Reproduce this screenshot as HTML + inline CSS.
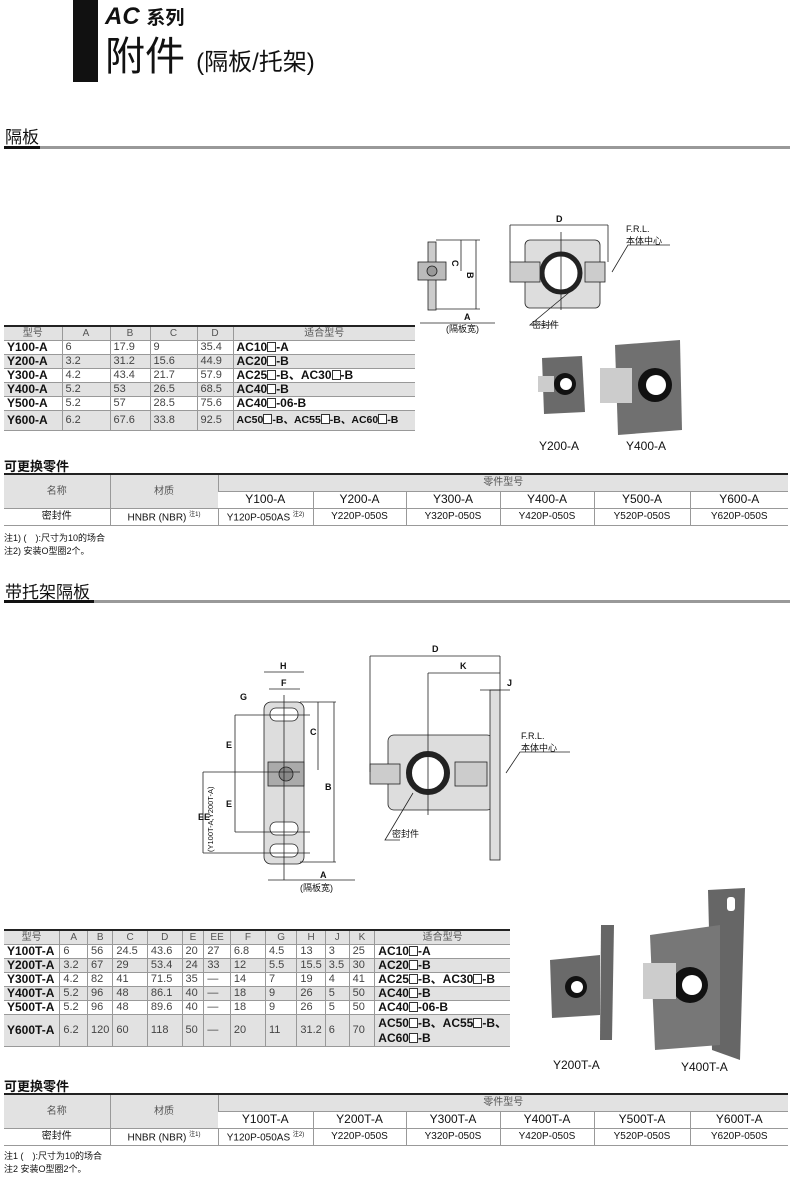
<!DOCTYPE html>
<html><head><meta charset="utf-8"><style>
*{margin:0;padding:0;box-sizing:border-box}
body{width:790px;height:1179px;position:relative;background:#fff;font-family:"Liberation Sans","Noto Sans CJK SC",sans-serif;color:#111;overflow:hidden}
.a{position:absolute}
table{border-collapse:collapse;position:absolute;font-size:11px}
td{border-left:1px solid #999;border-bottom:1px solid #999;padding:0 3px;line-height:13px;white-space:nowrap}
td:first-child{border-left:none}
tr.g td{background:#e2e2e2}
.h td{background:#e2e2e2;text-align:center;color:#555;font-size:10px}
.m{font-weight:bold;font-size:12px}
.v{color:#444}
.sq{display:inline-block;width:9px;height:10px;border:1px solid #333;background:#fff;vertical-align:-1px}
.p{table-layout:fixed}
.p td{text-align:center;font-size:10px;height:17px;padding:0}
.hd{font-size:17px}
.bar1{height:3px;background:#999}
</style></head><body>
<div class="a" style="left:73px;top:0;width:25px;height:82px;background:#111"></div>
<div class="a" style="left:105px;top:3px;font-size:24px;font-weight:bold;font-style:italic">AC <span style="font-style:normal;font-size:19px">系列</span></div>
<div class="a" style="left:105px;top:34px;font-size:40px;line-height:46px">附件 <span style="font-size:24px">(隔板/托架)</span></div>

<div class="a hd" style="left:5px;top:123px">隔板</div>
<div class="a bar1" style="left:4px;top:146px;width:786px"></div>
<div class="a" style="left:4px;top:146px;width:36px;height:3px;background:#111"></div>

<table style="left:4px;top:325px;width:411px;border-top:2px solid #222">
<tr class="h"><td style="width:58px">型号</td><td style="width:48px">A</td><td style="width:40px">B</td><td style="width:47px">C</td><td style="width:36px">D</td><td>适合型号</td></tr>
<tr><td class="m">Y100-A</td><td class="v">6</td><td class="v">17.9</td><td class="v">9</td><td class="v">35.4</td><td class="m">AC10<span class="sq"></span>-A</td></tr>
<tr class="g"><td class="m">Y200-A</td><td class="v">3.2</td><td class="v">31.2</td><td class="v">15.6</td><td class="v">44.9</td><td class="m">AC20<span class="sq"></span>-B</td></tr>
<tr><td class="m">Y300-A</td><td class="v">4.2</td><td class="v">43.4</td><td class="v">21.7</td><td class="v">57.9</td><td class="m">AC25<span class="sq"></span>-B、AC30<span class="sq"></span>-B</td></tr>
<tr class="g"><td class="m">Y400-A</td><td class="v">5.2</td><td class="v">53</td><td class="v">26.5</td><td class="v">68.5</td><td class="m">AC40<span class="sq"></span>-B</td></tr>
<tr><td class="m">Y500-A</td><td class="v">5.2</td><td class="v">57</td><td class="v">28.5</td><td class="v">75.6</td><td class="m">AC40<span class="sq"></span>-06-B</td></tr>
<tr class="g"><td class="m" style="height:20px">Y600-A</td><td class="v">6.2</td><td class="v">67.6</td><td class="v">33.8</td><td class="v">92.5</td><td class="m" style="font-size:10.5px">AC50<span class="sq"></span>-B、AC55<span class="sq"></span>-B、AC60<span class="sq"></span>-B</td></tr>
</table>

<div class="a" style="left:4px;top:456px;font-size:13px;font-weight:bold">可更换零件</div>
<table class="p" style="left:4px;top:473px;width:784px;border-top:2px solid #222">
<colgroup><col style="width:106px"><col style="width:108px"><col style="width:95px"><col style="width:93px"><col style="width:94px"><col style="width:94px"><col style="width:96px"><col style="width:98px"></colgroup>
<tr class="h"><td rowspan="2">名称</td><td rowspan="2">材质</td><td colspan="6">零件型号</td></tr>
<tr><td style="font-size:12px">Y100-A</td><td style="font-size:12px">Y200-A</td><td style="font-size:12px">Y300-A</td><td style="font-size:12px">Y400-A</td><td style="font-size:12px">Y500-A</td><td style="font-size:12px">Y600-A</td></tr>
<tr><td>密封件</td><td>HNBR (NBR) <sup style="font-size:6px">注1)</sup></td><td>Y120P-050AS <sup style="font-size:6px">注2)</sup></td><td>Y220P-050S</td><td>Y320P-050S</td><td>Y420P-050S</td><td>Y520P-050S</td><td>Y620P-050S</td></tr>
</table>
<div class="a" style="left:4px;top:532px;font-size:9px;line-height:13px">注1) (　):尺寸为10的场合<br>注2) 安装O型圈2个。</div>

<div class="a hd" style="left:5px;top:578px">带托架隔板</div>
<div class="a bar1" style="left:4px;top:600px;width:786px"></div>
<div class="a" style="left:4px;top:600px;width:90px;height:3px;background:#111"></div>

<table style="left:4px;top:929px;width:506px;border-top:2px solid #222">
<tr class="h"><td style="width:56px">型号</td><td style="width:28px">A</td><td style="width:25px">B</td><td style="width:35px">C</td><td style="width:35px">D</td><td style="width:22px">E</td><td style="width:27px">EE</td><td style="width:36px">F</td><td style="width:32px">G</td><td style="width:28px">H</td><td style="width:24px">J</td><td style="width:26px">K</td><td>适合型号</td></tr>
<tr><td class="m">Y100T-A</td><td class="v">6</td><td class="v">56</td><td class="v">24.5</td><td class="v">43.6</td><td class="v">20</td><td class="v">27</td><td class="v">6.8</td><td class="v">4.5</td><td class="v">13</td><td class="v">3</td><td class="v">25</td><td class="m">AC10<span class="sq"></span>-A</td></tr>
<tr class="g"><td class="m">Y200T-A</td><td class="v">3.2</td><td class="v">67</td><td class="v">29</td><td class="v">53.4</td><td class="v">24</td><td class="v">33</td><td class="v">12</td><td class="v">5.5</td><td class="v">15.5</td><td class="v">3.5</td><td class="v">30</td><td class="m">AC20<span class="sq"></span>-B</td></tr>
<tr><td class="m">Y300T-A</td><td class="v">4.2</td><td class="v">82</td><td class="v">41</td><td class="v">71.5</td><td class="v">35</td><td class="v">—</td><td class="v">14</td><td class="v">7</td><td class="v">19</td><td class="v">4</td><td class="v">41</td><td class="m">AC25<span class="sq"></span>-B、AC30<span class="sq"></span>-B</td></tr>
<tr class="g"><td class="m">Y400T-A</td><td class="v">5.2</td><td class="v">96</td><td class="v">48</td><td class="v">86.1</td><td class="v">40</td><td class="v">—</td><td class="v">18</td><td class="v">9</td><td class="v">26</td><td class="v">5</td><td class="v">50</td><td class="m">AC40<span class="sq"></span>-B</td></tr>
<tr><td class="m">Y500T-A</td><td class="v">5.2</td><td class="v">96</td><td class="v">48</td><td class="v">89.6</td><td class="v">40</td><td class="v">—</td><td class="v">18</td><td class="v">9</td><td class="v">26</td><td class="v">5</td><td class="v">50</td><td class="m">AC40<span class="sq"></span>-06-B</td></tr>
<tr class="g"><td class="m" style="height:32px">Y600T-A</td><td class="v">6.2</td><td class="v">120</td><td class="v">60</td><td class="v">118</td><td class="v">50</td><td class="v">—</td><td class="v">20</td><td class="v">11</td><td class="v">31.2</td><td class="v">6</td><td class="v">70</td><td class="m" style="line-height:15px">AC50<span class="sq"></span>-B、AC55<span class="sq"></span>-B、<br>AC60<span class="sq"></span>-B</td></tr>
</table>

<div class="a" style="left:4px;top:1076px;font-size:13px;font-weight:bold">可更换零件</div>
<table class="p" style="left:4px;top:1093px;width:784px;border-top:2px solid #222">
<colgroup><col style="width:106px"><col style="width:108px"><col style="width:95px"><col style="width:93px"><col style="width:94px"><col style="width:94px"><col style="width:96px"><col style="width:98px"></colgroup>
<tr class="h"><td rowspan="2">名称</td><td rowspan="2">材质</td><td colspan="6">零件型号</td></tr>
<tr><td style="font-size:12px">Y100T-A</td><td style="font-size:12px">Y200T-A</td><td style="font-size:12px">Y300T-A</td><td style="font-size:12px">Y400T-A</td><td style="font-size:12px">Y500T-A</td><td style="font-size:12px">Y600T-A</td></tr>
<tr><td>密封件</td><td>HNBR (NBR) <sup style="font-size:6px">注1)</sup></td><td>Y120P-050AS <sup style="font-size:6px">注2)</sup></td><td>Y220P-050S</td><td>Y320P-050S</td><td>Y420P-050S</td><td>Y520P-050S</td><td>Y620P-050S</td></tr>
</table>
<div class="a" style="left:4px;top:1150px;font-size:9px;line-height:13px">注1 (　):尺寸为10的场合<br>注2 安装O型圈2个。</div>

<svg class="a" style="left:0;top:0" width="790" height="1179" font-family="Liberation Sans, Noto Sans CJK SC, sans-serif">
<g stroke="#222" stroke-width="0.8" fill="none">
<rect x="428" y="242" width="8" height="68" fill="#ccc"/>
<rect x="418" y="262" width="28" height="18" fill="#bbb"/>
<circle cx="432" cy="271" r="5" fill="#999"/>
<line x1="436" y1="240" x2="480" y2="240"/><line x1="436" y1="309" x2="480" y2="309"/>
<line x1="476" y1="240" x2="476" y2="309"/><line x1="461" y1="240" x2="461" y2="271"/>
<line x1="420" y1="323" x2="495" y2="323"/>
<rect x="525" y="240" width="75" height="68" rx="5" fill="#ddd"/>
<circle cx="561" cy="273" r="19" fill="#fff" stroke-width="5"/>
<rect x="510" y="262" width="30" height="20" fill="#ccc"/>
<rect x="585" y="262" width="20" height="20" fill="#ccc"/>
<line x1="510" y1="225" x2="608" y2="225"/><line x1="510" y1="225" x2="510" y2="262"/><line x1="608" y1="225" x2="608" y2="262"/>
<line x1="561" y1="232" x2="561" y2="310"/>
<polyline points="612,272 628,245 670,245"/>
<polyline points="572,290 530,325 555,325"/>
<rect x="264" y="702" width="40" height="162" rx="7" fill="#ddd"/>
<rect x="270" y="708" width="28" height="13" rx="6" fill="#fff"/>
<rect x="270" y="822" width="28" height="13" rx="6" fill="#fff"/>
<rect x="270" y="844" width="28" height="13" rx="6" fill="#fff"/>
<rect x="268" y="762" width="36" height="24" fill="#aaa"/>
<circle cx="286" cy="774" r="7" fill="#888"/>
<line x1="284" y1="695" x2="284" y2="880"/>
<line x1="264" y1="672" x2="304" y2="672"/><line x1="269" y1="689" x2="300" y2="689"/>
<line x1="300" y1="702" x2="336" y2="702"/><line x1="318" y1="702" x2="318" y2="770"/>
<line x1="334" y1="702" x2="334" y2="862"/><line x1="300" y1="862" x2="336" y2="862"/>
<line x1="235" y1="715" x2="235" y2="832"/><line x1="235" y1="715" x2="310" y2="715"/><line x1="235" y1="832" x2="310" y2="832"/>
<line x1="203" y1="772" x2="300" y2="772"/><line x1="203" y1="772" x2="203" y2="853"/><line x1="203" y1="853" x2="310" y2="853"/>
<line x1="268" y1="880" x2="355" y2="880"/>
<rect x="388" y="735" width="105" height="75" rx="6" fill="#ddd"/>
<rect x="490" y="690" width="10" height="170" fill="#ddd"/>
<circle cx="428" cy="773" r="19" fill="#fff" stroke-width="6"/>
<rect x="370" y="764" width="30" height="20" fill="#ccc"/>
<rect x="455" y="762" width="32" height="24" fill="#ccc"/>
<line x1="370" y1="656" x2="500" y2="656"/><line x1="370" y1="656" x2="370" y2="772"/><line x1="500" y1="656" x2="500" y2="690"/>
<line x1="428" y1="673" x2="500" y2="673"/><line x1="428" y1="673" x2="428" y2="815"/>
<line x1="480" y1="690" x2="510" y2="690"/>
<polyline points="506,773 520,752 570,752"/>
<polyline points="413,793 385,840 400,840"/>
</g>
<g>
<path d="M542 358 L582 356 L585 412 L544 414 Z" fill="#6a6a6a"/>
<circle cx="565" cy="384" r="11" fill="#111"/><circle cx="566" cy="384" r="6" fill="#fff"/>
<rect x="538" y="376" width="16" height="16" fill="#ccc"/>
<path d="M615 345 L680 340 L682 430 L618 435 Z" fill="#707070"/>
<circle cx="655" cy="385" r="17" fill="#111"/><circle cx="656" cy="385" r="10" fill="#fff"/>
<rect x="600" y="368" width="32" height="35" fill="#ccc"/>
<path d="M601 925 L614 925 L612 1040 L600 1040 Z" fill="#666"/>
<path d="M550 960 L600 955 L600 1015 L552 1018 Z" fill="#6a6a6a"/>
<circle cx="576" cy="987" r="11" fill="#111"/><circle cx="577" cy="987" r="6" fill="#fff"/>
<path d="M708 890 L745 888 L740 1060 L712 1050 Z" fill="#666"/>
<path d="M650 935 L720 925 L720 1045 L655 1050 Z" fill="#777"/>
<circle cx="690" cy="985" r="18" fill="#111"/><circle cx="692" cy="985" r="10" fill="#fff"/>
<rect x="643" y="963" width="33" height="36" fill="#ccc"/>
<rect x="727" y="897" width="8" height="14" rx="3" fill="#fff"/>
</g>
<g font-size="9" fill="#111">
<text x="556" y="222" font-weight="bold">D</text>
<text x="626" y="232">F.R.L.</text><text x="626" y="244">本体中心</text>
<text x="452" y="260" font-weight="bold" transform="rotate(90 452 260)">C</text>
<text x="467" y="272" font-weight="bold" transform="rotate(90 467 272)">B</text>
<text x="464" y="320" font-weight="bold">A</text>
<text x="446" y="332">(隔板宽)</text>
<text x="532" y="328">密封件</text>
<text x="539" y="450" font-size="12">Y200-A</text>
<text x="626" y="450" font-size="12">Y400-A</text>
<text x="280" y="669" font-weight="bold">H</text>
<text x="281" y="686" font-weight="bold">F</text>
<text x="240" y="700" font-weight="bold">G</text>
<text x="226" y="748" font-weight="bold">E</text>
<text x="226" y="807" font-weight="bold">E</text>
<text x="310" y="735" font-weight="bold">C</text>
<text x="325" y="790" font-weight="bold">B</text>
<text x="198" y="820" font-weight="bold">EE</text>
<text x="213" y="852" font-size="7.5" transform="rotate(-90 213 852)">(Y100T-A,Y200T-A)</text>
<text x="320" y="878" font-weight="bold">A</text>
<text x="300" y="891">(隔板宽)</text>
<text x="432" y="652" font-weight="bold">D</text>
<text x="460" y="669" font-weight="bold">K</text>
<text x="507" y="686" font-weight="bold">J</text>
<text x="521" y="739">F.R.L.</text><text x="521" y="751">本体中心</text>
<text x="392" y="837">密封件</text>
<text x="553" y="1069" font-size="12">Y200T-A</text>
<text x="681" y="1071" font-size="12">Y400T-A</text>
</g>
</svg>
</body></html>
